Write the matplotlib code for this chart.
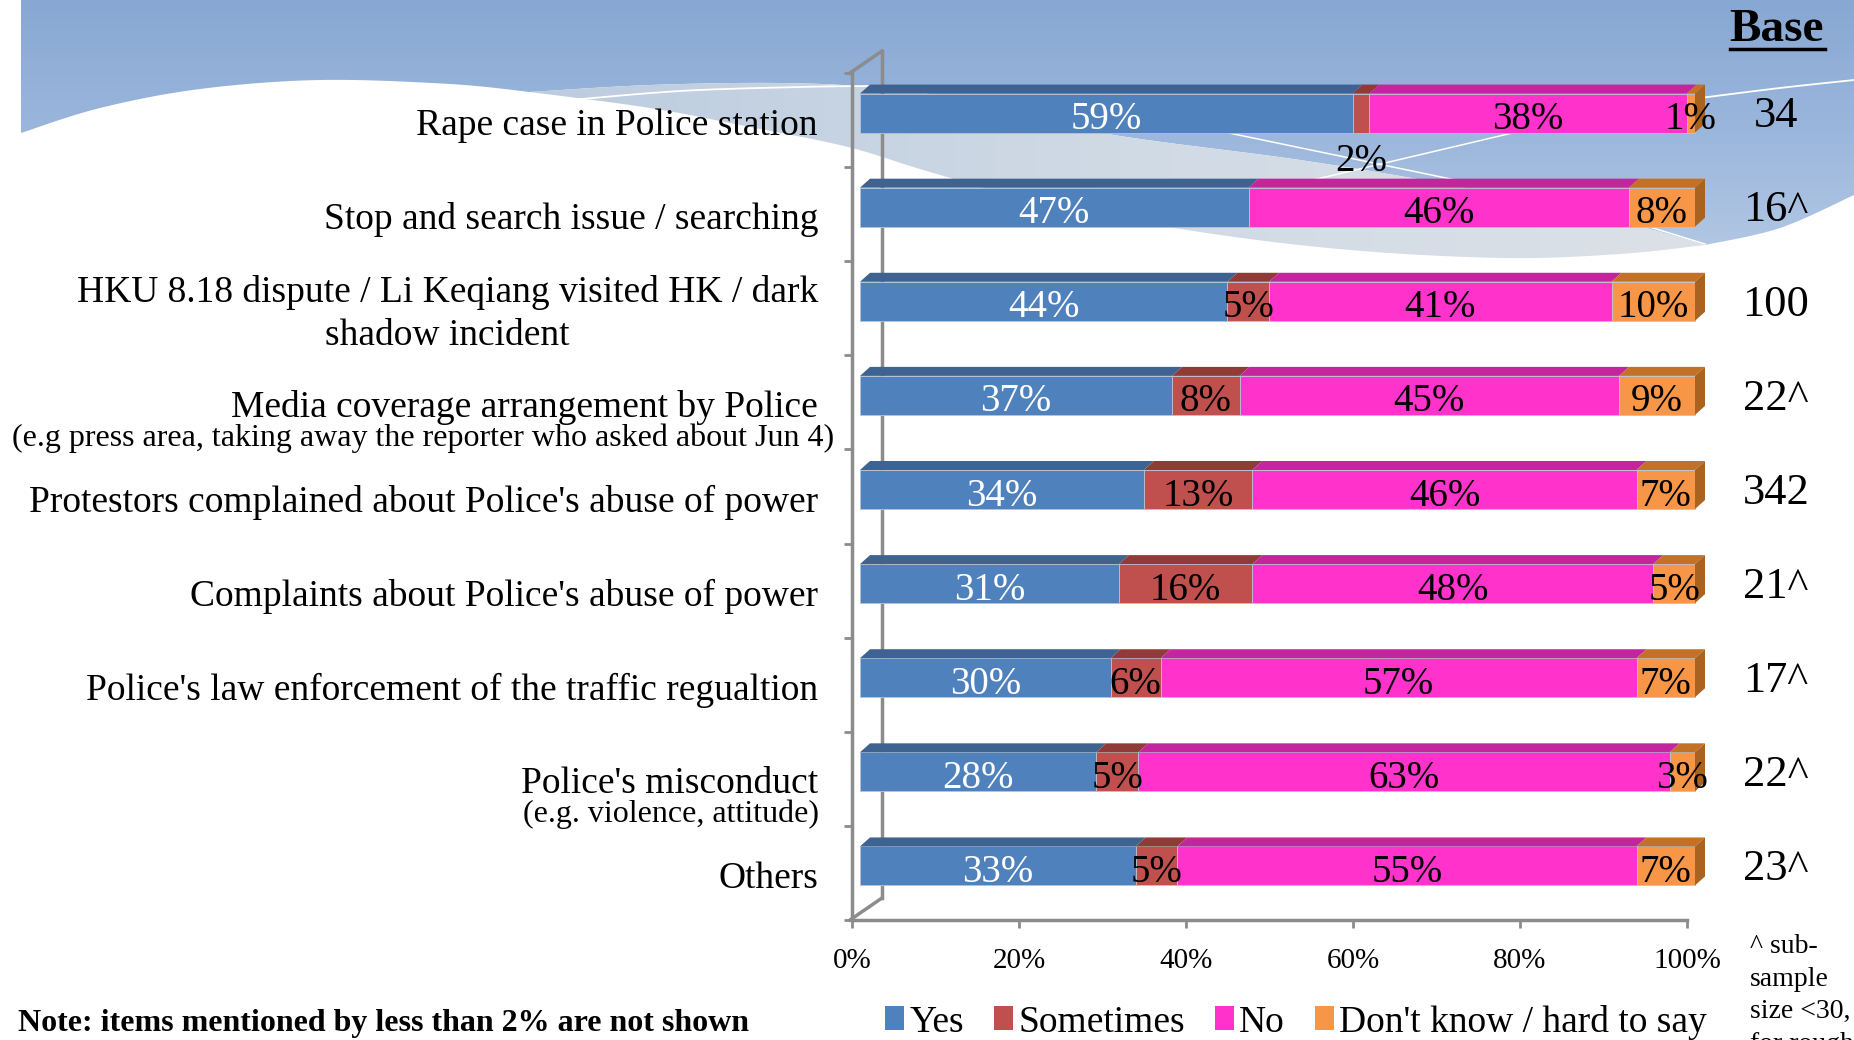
import numpy as np
import matplotlib
matplotlib.use("Agg")
import matplotlib.pyplot as plt
from matplotlib.patches import Polygon, Patch
from matplotlib.transforms import ScaledTranslation
from matplotlib.lines import Line2D
from matplotlib.colors import LinearSegmentedColormap

plt.rcParams['font.family'] = ['Liberation Serif', 'DejaVu Serif']

# ---------------- data ----------------
categories = [
    "Rape case in Police station",
    "Stop and search issue / searching",
    "HKU 8.18 dispute / Li Keqiang visited HK / dark\nshadow incident",
    "Media coverage arrangement by Police",
    "Protestors complained about Police's abuse of power",
    "Complaints about Police's abuse of power",
    "Police's law enforcement of the traffic regualtion",
    "Police's misconduct",
    "Others",
]
sublabels = [None, None, None,
             "(e.g press area, taking away the reporter who asked about Jun 4)",
             None, None, None,
             "(e.g. violence, attitude)",
             None]
yes = [59, 47, 44, 37, 34, 31, 30, 28, 33]
sometimes = [2, 0, 5, 8, 13, 16, 6, 5, 5]
no = [38, 46, 41, 45, 46, 48, 57, 63, 55]
dont_know = [1, 8, 10, 9, 7, 5, 7, 3, 7]
base = ["34", "16^", "100", "22^", "342", "21^", "17^", "22^", "23^"]
series_names = ["Yes", "Sometimes", "No", "Don't know / hard to say"]
xtick_values = [0, 20, 40, 60, 80, 100]
xtick_labels = ["0%", "20%", "40%", "60%", "80%", "100%"]
note_text = "Note: items mentioned by less than 2% are not shown"
subsample_text = "^ sub-\nsample\nsize <30,\nfor rough"

# ---------------- style ----------------
front_cols = ["#4F81BD", "#C0504D", "#FF33CC", "#F79646"]
top_cols = ["#3E6391", "#913B39", "#C4249C", "#C27126"]
side_col = "#A9621F"
grey = "#8C8C8C"

W, H = 1854, 1040
fig = plt.figure(figsize=(W / 100, H / 100), dpi=100)

# ---------------- background ----------------
bg = fig.add_axes([0, 0, 1, 1], zorder=0)
bg.set_xlim(0, W)
bg.set_ylim(H, 0)
bg.axis('off')


def smooth(pts, n=16):
    p = np.array(pts, float)
    p = np.vstack([p[0], p, p[-1]])
    out = []
    for i in range(1, len(p) - 2):
        p0, p1, p2, p3 = p[i - 1], p[i], p[i + 1], p[i + 2]
        t = np.linspace(0, 1, n, endpoint=False)[:, None]
        out.append(0.5 * ((2 * p1) + (-p0 + p2) * t + (2 * p0 - 5 * p1 + 4 * p2 - p3) * t ** 2
                          + (-p0 + 3 * p1 - 3 * p2 + p3) * t ** 3))
    out.append(p[-2][None])
    return np.vstack(out)


wave_top = smooth([(21, 133), (100, 108), (200, 89), (320, 80), (450, 84), (530, 92)])
band_top = smooth([(530, 92), (650, 85), (780, 83), (880, 88), (980, 103), (1102, 133),
                   (1300, 160), (1450, 185), (1600, 216), (1705, 245)])
right_low = smooth([(1705, 245), (1780, 228), (1854, 195)])
band_low = smooth([(530, 92), (650, 108), (750, 127), (848, 147), (930, 172), (1050, 205),
                   (1200, 232), (1350, 250), (1505, 258), (1620, 254), (1705, 245)])

blue_pts = np.vstack([wave_top, band_top[1:], right_low[1:], [(1854, 0), (21, 0)]])
blue_poly = Polygon(blue_pts, closed=True, facecolor='none', edgecolor='none',
                    transform=bg.transData)
bg.add_patch(blue_poly)
cmap = LinearSegmentedColormap.from_list("bgblue", ["#87A8D3", "#9BB6DC", "#B3C8E4"])
grad = np.linspace(0, 1, 256).reshape(-1, 1)
im = bg.imshow(grad, extent=(21, W, 260, 0), aspect='auto', cmap=cmap, origin='upper', zorder=1)
im.set_clip_path(blue_poly)

band_pts = np.vstack([band_top, band_low[::-1][1:]])
band_poly = Polygon(band_pts, closed=True, facecolor='none', edgecolor='none',
                    transform=bg.transData)
bg.add_patch(band_poly)
cmap2 = LinearSegmentedColormap.from_list("band", ["#BCCCDF", "#D0DAE5", "#DCE1E7"])
grad2 = np.linspace(0, 1, 256).reshape(1, -1)
im2 = bg.imshow(grad2, extent=(530, 1710, 260, 80), aspect='auto', cmap=cmap2, zorder=2)
im2.set_clip_path(band_poly)

# thin white swoosh lines
for seg in [[(560, 101), (680, 91), (800, 87), (870, 86)],
            [(1700, 98), (1780, 88), (1854, 80)]]:
    s = smooth(seg)
    bg.plot(s[:, 0], s[:, 1], color='white', lw=1.3, zorder=3)
bg.plot([1200, 1470], [127, 183], color='white', lw=1.1, zorder=3)
bg.plot([1525, 1300], [130, 183], color='white', lw=1.1, zorder=3)
bg.plot([1640, 1705], [224, 244], color='white', lw=1.1, zorder=3)

# 3D wall frame (back lines)
bg.plot([882, 882], [51, 898], color=grey, lw=2.5, zorder=4)
bg.plot([850, 882], [73, 51], color=grey, lw=2.5, zorder=4)
bg.plot([850, 882], [920, 898], color=grey, lw=2.5, zorder=4)

# ---------------- main axes ----------------
ax_left, ax_right = 852, 1687
ax_top, ax_bot = 73, 920
ax = fig.add_axes([ax_left / W, 1 - ax_bot / H, (ax_right - ax_left) / W, (ax_bot - ax_top) / H],
                  zorder=1)
ax.patch.set_alpha(0)
n = len(categories)
ax.set_xlim(0, 1)
ax.set_ylim(n - 0.5, -0.5)

for sp in ['top', 'right']:
    ax.spines[sp].set_visible(False)
for sp in ['left', 'bottom']:
    ax.spines[sp].set_color(grey)
    ax.spines[sp].set_linewidth(2.5)

ax.set_xticks(np.array(xtick_values) / 100)
ax.set_xticklabels(xtick_labels)
ax.tick_params(axis='x', length=6, width=2, color=grey, labelsize=21, pad=14)
ax.set_yticks(np.arange(-0.5, n, 1))
ax.set_yticklabels([])
ax.tick_params(axis='y', length=6, width=2, color=grey)

px_x = (ax_right - ax_left)          # pixels per unit x
px_y = (ax_bot - ax_top) / n         # pixels per category
off = ScaledTranslation(8 / 100, 7 / 100, fig.dpi_scale_trans)
tr = ax.transData + off
bar_h = 39 / px_y
ddx = 10 / px_x
ddy = 9 / px_y

vals = np.array([yes, sometimes, no, dont_know], float)
frac = vals / vals.sum(axis=0)
lefts = np.vstack([np.zeros(n), np.cumsum(frac, axis=0)[:-1]])
ypos = np.arange(n)

for j in range(4):
    ax.barh(ypos, frac[j], left=lefts[j], height=bar_h, color=front_cols[j],
            edgecolor='#B7C3D3', linewidth=0.6, transform=tr, clip_on=False, zorder=2)
    for i in range(n):
        if frac[j, i] <= 0:
            continue
        l, w = lefts[j, i], frac[j, i]
        yt = ypos[i] - bar_h / 2
        ax.add_patch(Polygon([(l, yt), (l + w, yt), (l + w + ddx, yt - ddy), (l + ddx, yt - ddy)],
                             closed=True, facecolor=top_cols[j], edgecolor='none',
                             transform=tr, clip_on=False, zorder=2))
        if j == 3:
            yb = ypos[i] + bar_h / 2
            ax.add_patch(Polygon([(l + w, yt), (l + w + ddx, yt - ddy), (l + w + ddx, yb - ddy),
                                  (l + w, yb)], closed=True, facecolor=side_col,
                                 edgecolor='none', transform=tr, clip_on=False, zorder=2))

# value labels
for j in range(4):
    for i in range(n):
        v = vals[j, i]
        if v <= 0:
            continue
        xc = lefts[j, i] + frac[j, i] / 2
        yc = ypos[i] + 0.07
        if j == 1 and v < 3:
            yc = ypos[i] + 0.52
        ax.text(xc, yc, f"{int(v)}%", transform=tr, ha='center', va='center',
                fontsize=28, color='white' if j == 0 else 'black', zorder=5, clip_on=False)

# category labels
ytr = ax.get_yaxis_transform()
label_x = (818 - ax_left) / px_x
sub_right = {3: 834, 7: 819}
for i, lab in enumerate(categories):
    if sublabels[i]:
        ax.text(label_x, i + 0.05, lab, transform=ytr, ha='right', va='center', fontsize=27)
        ax.text((sub_right[i] - ax_left) / px_x, i + 0.38, sublabels[i], transform=ytr,
                ha='right', va='center', fontsize=23)
    else:
        ax.text(label_x, i + 0.06, lab, transform=ytr, ha='right', va='center', fontsize=27,
                multialignment='center', linespacing=1.3)

# base numbers
base_x = (1776 - ax_left) / px_x
for i, b in enumerate(base):
    ax.text(base_x, i - 0.04, b, transform=ytr, ha='center', va='center', fontsize=32,
            clip_on=False)

fig.text(1777 / W, 1 - 30 / H, "Base", ha='center', va='center', fontsize=34, weight='bold')
fig.add_artist(Line2D([1730 / W, 1825 / W], [1 - 49 / H, 1 - 49 / H],
                      transform=fig.transFigure, color='black', lw=2.5))

# legend
handles = [Patch(facecolor=c, edgecolor='none') for c in front_cols]
fig.legend(handles, series_names, loc='center', bbox_to_anchor=(1296 / W, 1 - 1022 / H),
           ncol=4, frameon=False, fontsize=27, handlelength=0.5, handleheight=0.6,
           handletextpad=0.15, columnspacing=0.8, borderaxespad=0, borderpad=0)

fig.text(18 / W, 1 - 1024 / H, note_text, fontsize=23, weight='bold', va='center', ha='left')
fig.text(1750 / W, 1 - 934 / H, subsample_text, fontsize=20, va='top', ha='left',
         linespacing=1.4)

fig.savefig("out.png", dpi=100)
